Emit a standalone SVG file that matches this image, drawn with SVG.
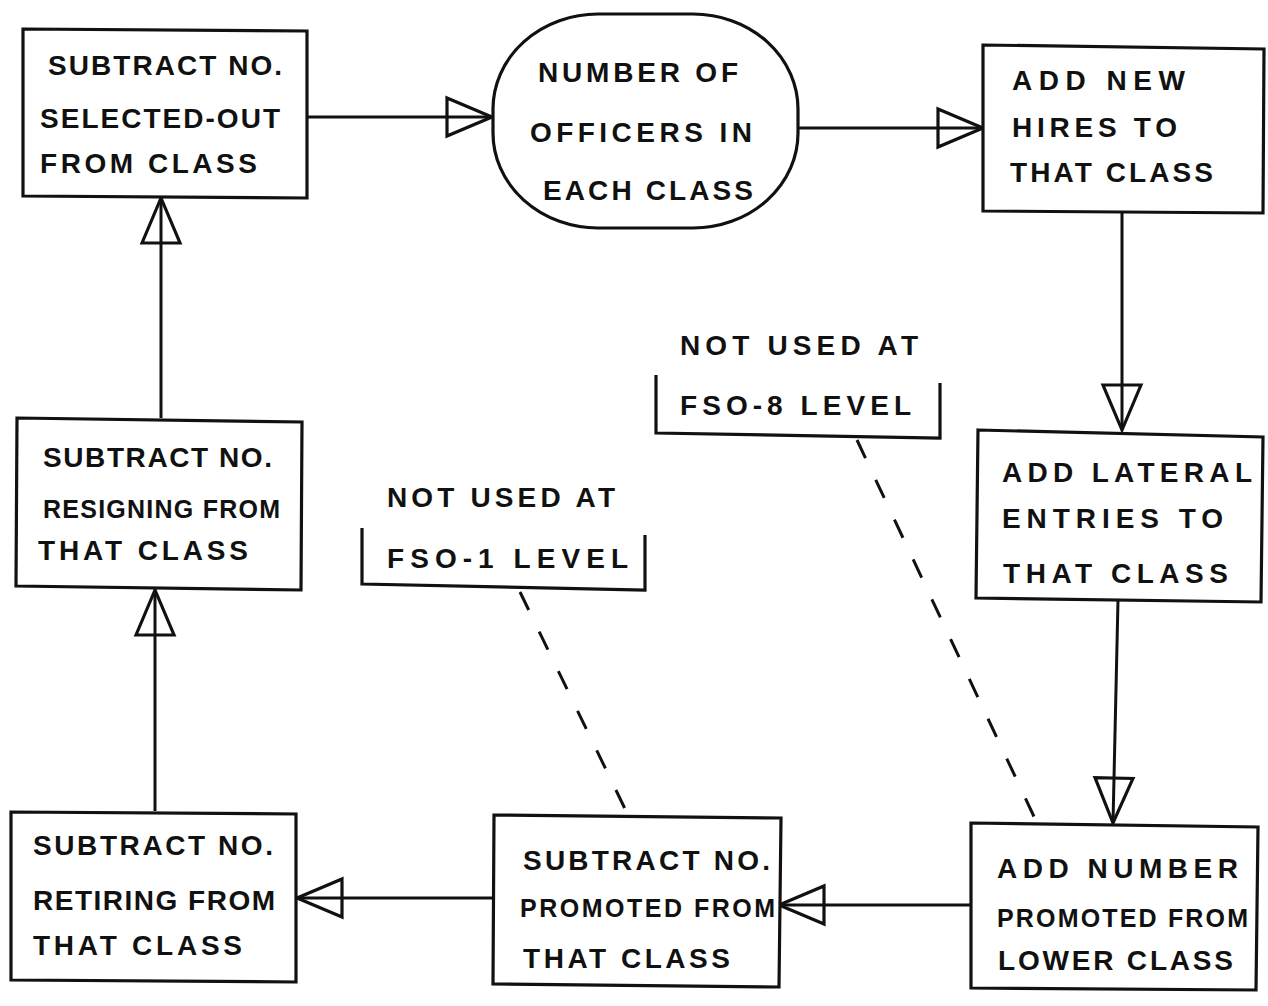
<svg xmlns="http://www.w3.org/2000/svg" width="1268" height="1006" viewBox="0 0 1268 1006">
  <style>
    .box { fill: #ffffff; stroke: #111111; stroke-width: 3.2; stroke-linejoin: miter; }
    .lbl { font-family: "Liberation Sans", "DejaVu Sans", sans-serif; font-size: 28px; font-weight: bold; fill: #111111; }
    .tight { font-size: 25px; }
    .flow { fill: none; stroke: #111111; stroke-width: 3; marker-end: url(#tri); }
    .dash { fill: none; stroke: #111111; stroke-width: 3; stroke-dasharray: 20 24; }
    .bracket { fill: none; stroke: #111111; stroke-width: 3.2; }
  </style>
  <defs>
    <!-- open triangular arrowhead; the shaft runs through it to the tip -->
    <marker id="tri" markerUnits="userSpaceOnUse" markerWidth="50" markerHeight="44" refX="45" refY="19" orient="auto" overflow="visible">
      <path d="M0,0 L45,19 L0,38 Z" fill="none" stroke="#111111" stroke-width="3.2" stroke-linejoin="miter"/>
    </marker>
  </defs>
  <rect width="1268" height="1006" fill="#ffffff"/>

  <!-- flow connectors -->
  <g id="connectors">
    <path class="flow" d="M307,117 H492"/>
    <path class="flow" d="M798,128 H983"/>
    <path class="flow" d="M1122,213 V430"/>
    <path class="flow" d="M1118,600 L1113,823"/>
    <path class="flow" d="M971,905 H779"/>
    <path class="flow" d="M494,898 H297"/>
    <path class="flow" d="M155,811 V590"/>
    <path class="flow" d="M161,418 V198"/>
    <!-- dashed leaders from the notes -->
    <path class="dash" d="M857,440 L1037,823"/>
    <path class="dash" d="M520,592 L628,815"/>
  </g>

  <g id="selected-out">
    <path class="box" d="M23,29 L307,31 L307,198 L23,196 Z"/>
    <text class="lbl" x="48" y="75" textLength="234" lengthAdjust="spacing">SUBTRACT NO.</text>
    <text class="lbl" x="40" y="128" textLength="240" lengthAdjust="spacing">SELECTED-OUT</text>
    <text class="lbl" x="40" y="173" textLength="217" lengthAdjust="spacing">FROM CLASS</text>
  </g>

  <g id="officers">
    <rect class="box" x="493" y="14" width="305" height="214" rx="105" ry="95"/>
    <text class="lbl" x="538" y="82" textLength="200" lengthAdjust="spacing">NUMBER OF</text>
    <text class="lbl" x="530" y="142" textLength="222" lengthAdjust="spacing">OFFICERS IN</text>
    <text class="lbl" x="543" y="200" textLength="210" lengthAdjust="spacing">EACH CLASS</text>
  </g>

  <g id="new-hires">
    <path class="box" d="M983,45 L1264,49 L1263,213 L983,211 Z"/>
    <text class="lbl" x="1012" y="90" textLength="173" lengthAdjust="spacing">ADD NEW</text>
    <text class="lbl" x="1012" y="137" textLength="165" lengthAdjust="spacing">HIRES TO</text>
    <text class="lbl" x="1010" y="182" textLength="203" lengthAdjust="spacing">THAT CLASS</text>
  </g>

  <g id="lateral-entries">
    <path class="box" d="M978,430 L1263,437 L1261,602 L976,598 Z"/>
    <text class="lbl" x="1002" y="482" textLength="250" lengthAdjust="spacing">ADD LATERAL</text>
    <text class="lbl" x="1002" y="528" textLength="221" lengthAdjust="spacing">ENTRIES TO</text>
    <text class="lbl" x="1003" y="583" textLength="225" lengthAdjust="spacing">THAT CLASS</text>
  </g>

  <g id="promoted-in">
    <path class="box" d="M971,823 L1258,827 L1256,990 L971,988 Z"/>
    <text class="lbl" x="997" y="878" textLength="241" lengthAdjust="spacing">ADD NUMBER</text>
    <text class="lbl tight" x="997" y="927" textLength="251" lengthAdjust="spacing">PROMOTED FROM</text>
    <text class="lbl" x="998" y="970" textLength="235" lengthAdjust="spacing">LOWER CLASS</text>
  </g>

  <g id="promoted-out">
    <path class="box" d="M494,815 L781,818 L779,987 L493,984 Z"/>
    <text class="lbl" x="523" y="870" textLength="247" lengthAdjust="spacing">SUBTRACT NO.</text>
    <text class="lbl tight" x="520" y="917" textLength="255" lengthAdjust="spacing">PROMOTED FROM</text>
    <text class="lbl" x="523" y="968" textLength="207" lengthAdjust="spacing">THAT CLASS</text>
  </g>

  <g id="retiring">
    <path class="box" d="M11,812 L296,814 L296,982 L11,980 Z"/>
    <text class="lbl" x="33" y="855" textLength="240" lengthAdjust="spacing">SUBTRACT NO.</text>
    <text class="lbl" x="33" y="910" textLength="242" lengthAdjust="spacing">RETIRING FROM</text>
    <text class="lbl" x="33" y="955" textLength="209" lengthAdjust="spacing">THAT CLASS</text>
  </g>

  <g id="resigning">
    <path class="box" d="M17,418 L302,422 L301,590 L16,586 Z"/>
    <text class="lbl" x="43" y="467" textLength="229" lengthAdjust="spacing">SUBTRACT NO.</text>
    <text class="lbl tight" x="43" y="518" textLength="237" lengthAdjust="spacing">RESIGNING FROM</text>
    <text class="lbl" x="38" y="560" textLength="210" lengthAdjust="spacing">THAT CLASS</text>
  </g>

  <g id="note-fso8">
    <path class="bracket" d="M656,375 L656,433 L940,438 L940,383"/>
    <text class="lbl" x="680" y="355" textLength="238" lengthAdjust="spacing">NOT USED AT</text>
    <text class="lbl" x="680" y="415" textLength="231" lengthAdjust="spacing">FSO-8 LEVEL</text>
  </g>

  <g id="note-fso1">
    <path class="bracket" d="M362,528 L362,584 L645,590 L645,535"/>
    <text class="lbl" x="387" y="507" textLength="228" lengthAdjust="spacing">NOT USED AT</text>
    <text class="lbl" x="387" y="568" textLength="241" lengthAdjust="spacing">FSO-1 LEVEL</text>
  </g>
</svg>
